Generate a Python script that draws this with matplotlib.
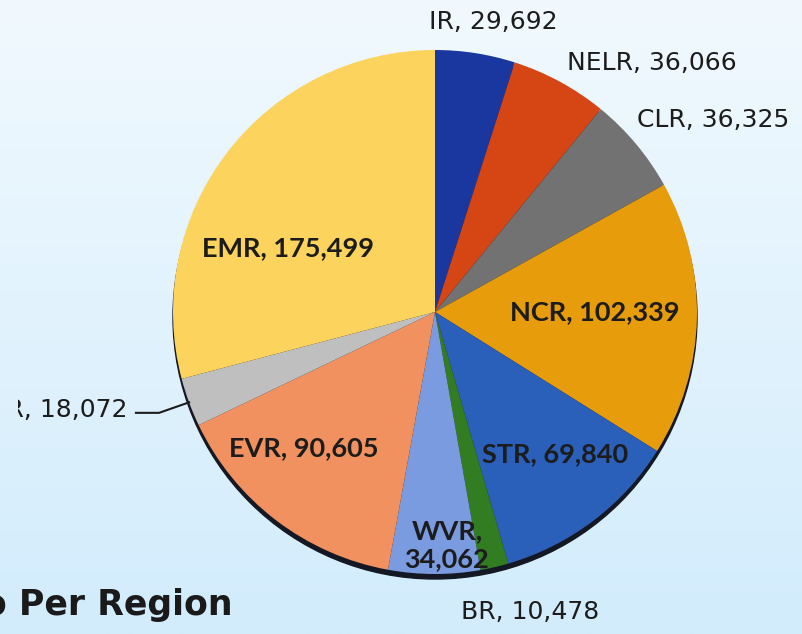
import numpy as np
import matplotlib
matplotlib.use("Agg")
import matplotlib.pyplot as plt
from matplotlib.transforms import Bbox, TransformedBbox

# data
regions = ["IR", "NELR", "CLR", "NCR", "STR", "BR", "WVR", "EVR", "CVR", "EMR"]
counts = [29692, 36066, 36325, 102339, 69840, 10478, 34062, 90605, 18072, 175499]
colors = ["#1a37a0", "#d64514", "#727272", "#e69c0b", "#2a60ba",
          "#327d22", "#7a9be0", "#f0915f", "#bfbfbf", "#fcd35c"]

# label layout: (radius factor, angle nudge in deg, inside?)
lab_f = [1.13, 1.26, 1.29, 0.61, 0.71, 1.20, 0.89, 0.72, 1.23, 0.61]
lab_nudge = [-2.4, -12.5, -5.3, 1.5, 2.9, 4.5, 3.1, -6.5, -2.5, 14.1]
inside = [False, False, False, True, True, False, True, True, False, True]

W, H = 803, 634
cx, cy, R = 435, H - 312, 262

fig = plt.figure(figsize=(W / 100, H / 100), dpi=100)
ax = fig.add_axes([0, 0, 1, 1])

# background gradient
grad = np.linspace(0, 1, 256).reshape(-1, 1)
top = np.array([0xf1, 0xf9, 0xfe]) / 255
bot = np.array([0xd2, 0xec, 0xfc]) / 255
img = top + (bot - top) * grad[:, :, None]
ax.imshow(img, extent=[0, W, 0, H], origin="upper", aspect="auto", zorder=0)

# shadow under the pie
shadow = plt.Circle((cx, cy - 5), R, color="#141824", zorder=1)
ax.add_patch(shadow)

wedges, _ = ax.pie(counts, colors=colors, startangle=90, counterclock=False,
                   center=(cx, cy), radius=R, frame=True,
                   wedgeprops=dict(linewidth=0, zorder=2))
for w in wedges:
    w.set_zorder(2)

for i, w in enumerate(wedges):
    mid = (w.theta1 + w.theta2) / 2
    a = np.deg2rad(mid + lab_nudge[i])
    x = cx + R * lab_f[i] * np.cos(a)
    y = cy + R * lab_f[i] * np.sin(a)
    val = f"{counts[i]:,}"
    if inside[i]:
        txt = f"{regions[i]},\n{val}" if regions[i] == "WVR" else f"{regions[i]}, {val}"
        ax.text(x, y, txt, ha="center", va="center", fontsize=19.5,
                family="Lato", fontweight="bold", color="#1c1c1c",
                linespacing=1.2, zorder=5)
    else:
        ha = "right" if regions[i] == "CVR" else "center"
        t = ax.text(x, y, f"{regions[i]}, {val}", ha=ha, va="center", fontsize=18,
                    family="DejaVu Sans", color="#1c1c1c", zorder=5)
        if regions[i] == "CVR":
            # the original picture is cropped through this label
            t.set_clip_box(TransformedBbox(Bbox([[18, 0], [W, H]]), ax.transData))
            t.set_clip_on(True)
            ea = np.deg2rad(mid)
            ex, ey = cx + R * np.cos(ea), cy + R * np.sin(ea)
            ax.plot([ex, ex - 30, x + 8], [ey, y - 3, y - 3],
                    color="#1c1c1c", lw=1.5, zorder=4)

ax.text(233, H - 615, "Portfolio Per Region", ha="right", va="baseline",
        fontsize=25, fontweight="bold", family="DejaVu Sans", color="#1a1a1a",
        zorder=5)

ax.set_xlim(0, W)
ax.set_ylim(0, H)
ax.set_aspect("auto")
ax.axis("off")

fig.savefig("out.png", dpi=100)
